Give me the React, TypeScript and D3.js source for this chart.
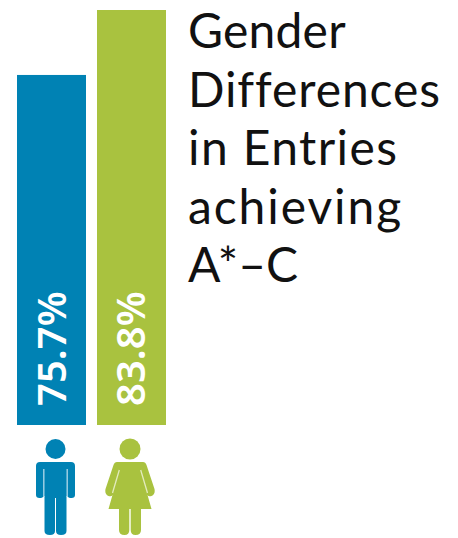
import React from "react";
import * as d3 from "d3";

const genders = ["Male", "Female"];
const values = [75.7, 83.8];
const labels = ["75.7%", "83.8%"];
const colors = ["#0082b4", "#a9c23f"];
const titleLines = ["Gender", "Differences", "in Entries", "achieving", "A*–C"];

const FONT = "'Noto Sans', sans-serif";
const TITLE_FONT = "Lato, sans-serif";
const TITLE_TRACKING = [0.2, 0.9, 1.4, 1.9, 0];

function Male({ color, cx }: { color: string; cx: number }) {
  return (
    <g transform={`translate(${cx},0)`}>
      <circle cx={0} cy={449} r={10} fill={color} />
      <path fill={color} d="M-15.5,462 H15.5 Q19.5,462 19.5,466 V495 Q19.5,498 16,498 Q12.5,498 12,496 H11 V531 Q11,535 5.5,535 Q0.5,535 0.5,531 V498 H-0.5 V531 Q-0.5,535 -5.5,535 Q-11,535 -11,531 V496 H-12 Q-12.5,498 -16,498 Q-19.5,498 -19.5,495 V466 Q-19.5,462 -15.5,462 Z" />
      <path d="M-11.7,469 V497 M11.7,469 V497" stroke="#a5d3e6" strokeWidth={1.4} fill="none" />
    </g>
  );
}

function Female({ color, cx }: { color: string; cx: number }) {
  return (
    <g transform={`translate(${cx},0)`}>
      <circle cx={0} cy={449} r={10.5} fill={color} />
      <path fill={color} d="M-13,462 H13 Q15.5,462 16.5,465 L24.5,489 Q25.5,494 21.5,496 Q18.5,497 17.5,495 L21.5,509 H11 V530 Q11,535 5.5,535 Q0.7,535 0.7,530 V509 H-0.7 V530 Q-0.7,535 -5.5,535 Q-11,535 -11,530 V509 H-21.5 L-17.5,495 Q-18.5,497 -21.5,496 Q-25.5,494 -24.5,489 L-16.5,465 Q-15.5,462 -13,462 Z" />
      <path d="M-10.7,470 L-17.5,493 M10.7,470 L17.5,493" stroke="#e3ebbd" strokeWidth={1.3} fill="none" />
    </g>
  );
}

export default function App() {
  const y = d3.scaleLinear().domain([32.05, 83.8]).range([425, 10]);
  const bw = 69;
  const xs = [17, 97];
  const baselines = [49, 47.5];
  return (
    <svg width={458} height={538} style={{ position: "absolute", left: 0, top: 0 }}>
      {genders.map((g, i) => {
        const left = xs[i];
        const top = y(values[i]);
        return (
          <g key={g}>
            <rect x={left} y={top} width={bw} height={y.range()[0] - top} fill={colors[i]} />
            <text
              transform={`translate(${left + baselines[i]},406) rotate(-90)`}
              fill="#fff"
              fontFamily={FONT}
              fontSize={40}
              fontWeight={600}
            >
              {labels[i]}
            </text>
          </g>
        );
      })}
      <Male color={colors[0]} cx={55.5} />
      <Female color={colors[1]} cx={130} />
      {titleLines.map((t, i) => (
        <text key={t} x={188} y={48 + i * 58.5} fontFamily={TITLE_FONT} fontSize={48} fill="#111" letterSpacing={TITLE_TRACKING[i]}>
          {t}
        </text>
      ))}
    </svg>
  );
}
